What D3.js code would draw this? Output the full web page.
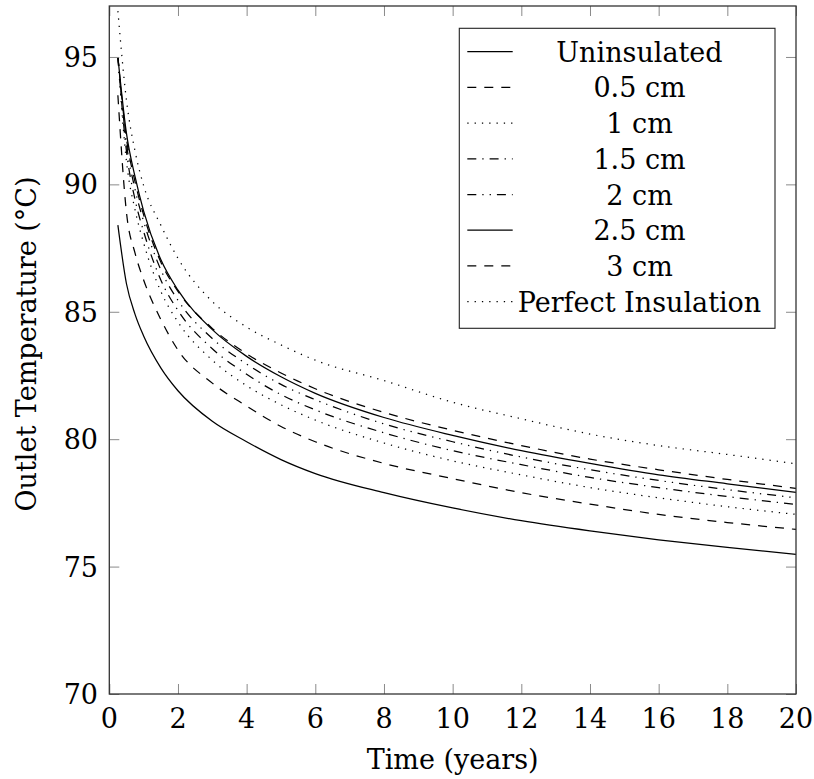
<!DOCTYPE html>
<html>
<head>
<meta charset="utf-8">
<script src="https://cdn.jsdelivr.net/npm/d3@7"></script>
<style>
  html, body { margin: 0; padding: 0; background: #fff; }
  svg { display: block; }
</style>
</head>
<body>
<svg id="chart" width="814" height="779"></svg>
<script>
// Time axis (years) at which each series is sampled
const years = [0.25, 0.5, 0.75, 1, 1.5, 2, 3, 4, 5, 6, 8, 10, 12, 14, 16, 18, 20];

// Outlet temperature (°C) for each insulation case
const uninsulated = [88.4, 86.1, 84.9, 84.05, 82.8, 81.9, 80.7, 79.9, 79.2, 78.65, 77.9, 77.3, 76.8, 76.4, 76.05, 75.75, 75.48];
const ins05 = [93.5, 88.9, 87.3, 86.25, 84.7, 83.5, 82.2, 81.3, 80.5, 79.9, 79.05, 78.45, 77.9, 77.45, 77.05, 76.73, 76.46];
const ins10 = [95.0, 90.9, 89.0, 87.7, 85.8, 84.6, 83.1, 82.1, 81.35, 80.75, 79.85, 79.15, 78.6, 78.1, 77.7, 77.35, 77.05];
const ins15 = [95.0, 91.3, 89.4, 88.15, 86.25, 85.05, 83.55, 82.55, 81.75, 81.15, 80.25, 79.55, 79.0, 78.5, 78.1, 77.75, 77.44];
const ins20 = [95.0, 91.6, 89.8, 88.55, 86.65, 85.45, 83.95, 82.95, 82.15, 81.55, 80.6, 79.9, 79.3, 78.8, 78.38, 78.02, 77.70];
const ins25 = [95.0, 92.0, 90.3, 88.95, 87.05, 85.85, 84.3, 83.25, 82.45, 81.8, 80.85, 80.15, 79.55, 79.05, 78.6, 78.25, 77.91];
const ins30 = [95.0, 91.8, 90.1, 88.8, 86.95, 85.8, 84.35, 83.35, 82.6, 81.98, 81.05, 80.35, 79.75, 79.22, 78.8, 78.42, 78.07];
const perfect = [96.8, 93.3, 91.3, 89.95, 88.4, 87.1, 85.4, 84.4, 83.7, 83.1, 82.3, 81.45, 80.8, 80.2, 79.75, 79.4, 79.03];

const seriesNames = ["Uninsulated", "0.5 cm", "1 cm", "1.5 cm", "2 cm", "2.5 cm", "3 cm", "Perfect Insulation"];
const seriesValues = [uninsulated, ins05, ins10, ins15, ins20, ins25, ins30, perfect];

const xTicks = [0, 2, 4, 6, 8, 10, 12, 14, 16, 18, 20];
const yTicks = [70, 75, 80, 85, 90, 95];

// Line styles: solid, dashed, dotted, dash-dotted, dash-dot-dotted
const dashStyles = ["none", "9,8", "1.3,6", "9,6,1.3,6", "9,6,1.3,6,1.3,6", "none", "9,8", "1.3,6"];

const serifFont = "'DejaVu Serif', serif";
const fontSize = 27;

const svg = d3.select("#chart");
const plotLeft = 109.3, plotRight = 796, plotTop = 6, plotBottom = 694;

const x = d3.scaleLinear().domain([0, 20]).range([plotLeft, plotRight]);
const y = d3.scaleLinear().domain([70, 97]).range([plotBottom, plotTop]);

const plot = svg.append("g");

// Curves
const line = d3.line()
  .x(d => x(d[0]))
  .y(d => y(d[1]))
  .curve(d3.curveMonotoneX);

seriesValues.forEach((vals, i) => {
  plot.append("path")
    .datum(years.map((t, k) => [t, vals[k]]))
    .attr("d", line)
    .attr("fill", "none")
    .attr("stroke", "#000")
    .attr("stroke-width", 1.25)
    .attr("stroke-dasharray", dashStyles[i]);
});

// Axes: ticks drawn inward on all four sides
const tickLen = 10;
const tickColor = "#8a8a8a";
const axisBottom = d3.axisBottom(x).tickValues(xTicks).tickSize(-tickLen).tickFormat("");
const axisTop = d3.axisTop(x).tickValues(xTicks).tickSize(-tickLen).tickFormat("");
const axisLeft = d3.axisLeft(y).tickValues(yTicks).tickSize(-tickLen).tickFormat("");
const axisRight = d3.axisRight(y).tickValues(yTicks).tickSize(-tickLen).tickFormat("");

function styleAxis(g) {
  g.select(".domain").remove();
  g.selectAll(".tick line").attr("stroke", tickColor).attr("stroke-width", 1);
}
svg.append("g").attr("transform", `translate(0,${plotBottom})`).call(axisBottom).call(styleAxis);
svg.append("g").attr("transform", `translate(0,${plotTop})`).call(axisTop).call(styleAxis);
svg.append("g").attr("transform", `translate(${plotLeft},0)`).call(axisLeft).call(styleAxis);
svg.append("g").attr("transform", `translate(${plotRight},0)`).call(axisRight).call(styleAxis);

// Frame
svg.append("rect")
  .attr("x", plotLeft).attr("y", plotTop)
  .attr("width", plotRight - plotLeft).attr("height", plotBottom - plotTop)
  .attr("fill", "none").attr("stroke", "#333").attr("stroke-width", 1.3);

function label(sel) {
  return sel.attr("font-family", serifFont).attr("font-size", fontSize).attr("fill", "#000");
}

// Tick labels
svg.append("g").selectAll("text").data(xTicks).join("text")
  .attr("x", d => x(d)).attr("y", 728)
  .attr("text-anchor", "middle")
  .call(label)
  .text(d => d);

svg.append("g").selectAll("text").data(yTicks).join("text")
  .attr("x", 98).attr("y", d => y(d) + 10)
  .attr("text-anchor", "end")
  .call(label)
  .text(d => d);

// Axis titles
svg.append("text")
  .attr("x", (plotLeft + plotRight) / 2).attr("y", 769)
  .attr("text-anchor", "middle")
  .call(label)
  .text("Time (years)");

svg.append("text")
  .attr("transform", `translate(36,${(plotTop + plotBottom) / 2 - 6}) rotate(-90)`)
  .attr("text-anchor", "middle")
  .call(label)
  .text("Outlet Temperature (°C)");

// Legend
const legend = svg.append("g");
const lgX0 = 459.3, lgY0 = 28.3, lgW = 315.7, lgH = 300, rowH = 35.7, firstRow = 51.7;
legend.append("rect")
  .attr("x", lgX0).attr("y", lgY0).attr("width", lgW).attr("height", lgH)
  .attr("fill", "#fff").attr("stroke", "#222").attr("stroke-width", 1.1);

seriesNames.forEach((name, i) => {
  const cy = firstRow + i * rowH;
  legend.append("line")
    .attr("x1", 467.3).attr("x2", 512.7)
    .attr("y1", cy).attr("y2", cy)
    .attr("stroke", "#000").attr("stroke-width", 1.25)
    .attr("stroke-dasharray", dashStyles[i]);
  legend.append("text")
    .attr("x", 639.5).attr("y", cy + 10)
    .attr("text-anchor", "middle")
    .call(label)
    .text(name);
});
</script>
</body>
</html>
